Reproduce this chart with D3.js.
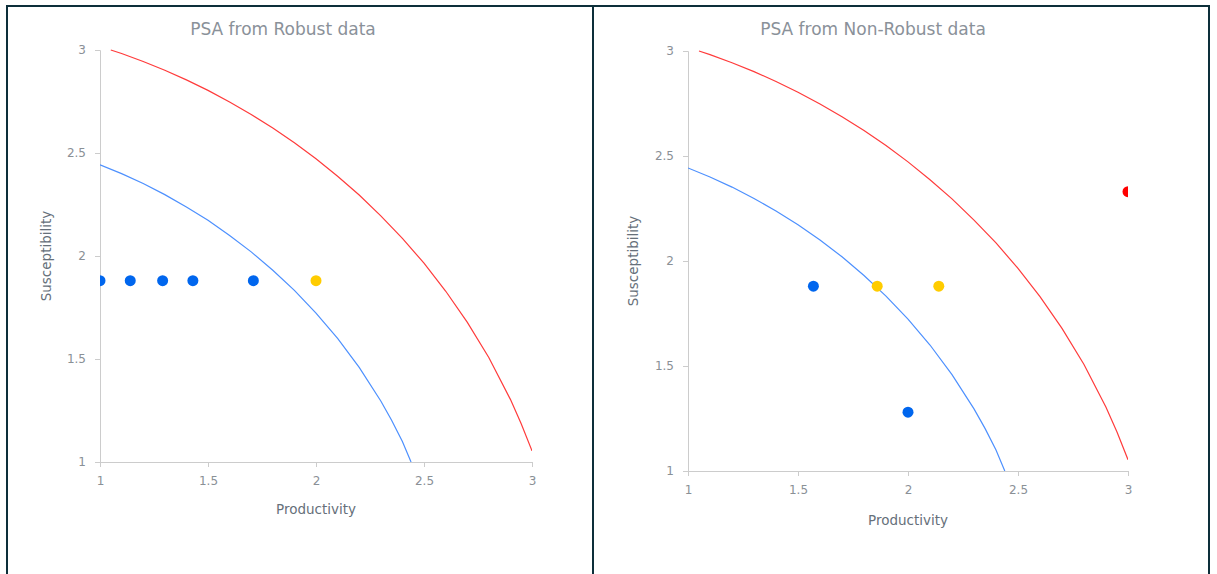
<!DOCTYPE html>
<html><head><meta charset="utf-8">
<script src="https://cdn.jsdelivr.net/npm/d3@7"></script>
<style>body{margin:0;background:#fff;}svg{display:block;}</style>
</head><body>
<svg id="c" width="1217" height="574"></svg>
<script>
// Threshold curves
const redCurveX = [1.05,1.1,1.2,1.3,1.4,1.5,1.6,1.7,1.8,1.9,2.0,2.1,2.2,2.3,2.4,2.5,2.6,2.7,2.8,2.9,2.95,3.0];
const redCurveY = [3.0,2.983,2.944,2.902,2.855,2.804,2.748,2.687,2.621,2.55,2.472,2.387,2.296,2.195,2.086,1.965,1.83,1.679,1.507,1.304,1.186,1.054];
const blueCurveX = [1.0,1.1,1.2,1.3,1.4,1.5,1.6,1.7,1.8,1.9,2.0,2.1,2.2,2.3,2.35,2.4,2.44];
const blueCurveY = [2.443,2.4,2.352,2.298,2.238,2.173,2.1,2.02,1.931,1.833,1.723,1.6,1.459,1.296,1.203,1.1,1.0];
// Robust points
const robustX = [1.0,1.14,1.29,1.43,1.71,2.0];
const robustY = [1.88,1.88,1.88,1.88,1.88,1.88];
const robustC = ["blue","blue","blue","blue","blue","yellow"];
// Non-robust points
const nonRobustX = [1.57,1.86,2.14,2.0,3.0];
const nonRobustY = [1.88,1.88,1.88,1.28,2.33];
const nonRobustC = ["blue","yellow","yellow","blue","red"];
const ticks = [1,1.5,2,2.5,3];
const titles = ["PSA from Robust data","PSA from Non-Robust data"];

const colorMap = {blue:"#0066ee", yellow:"#ffcc00", red:"#ff0000"};
const svg = d3.select("#c");
const font = "'DejaVu Sans', Verdana, sans-serif";

// panel borders
const bc = "#0d2f3a";
svg.append("line").attr("x1",6).attr("x2",1210).attr("y1",6).attr("y2",6).attr("stroke",bc).attr("stroke-width",2);
[7,593,1209].forEach(x=>svg.append("line").attr("x1",x).attr("x2",x).attr("y1",5).attr("y2",574).attr("stroke",bc).attr("stroke-width",2));

const panels = [
  {x0:100,x1:532,y0:50,y1:462,px:robustX,py:robustY,pc:robustC,title:titles[0],tx:283,xl:316,xly:514,yl:51},
  {x0:688,x1:1128,y0:51,y1:471,px:nonRobustX,py:nonRobustY,pc:nonRobustC,title:titles[1],tx:873,xl:908,xly:525,yl:638}
];

panels.forEach((p,i)=>{
  const g = svg.append("g");
  const x = d3.scaleLinear().domain([1,3]).range([p.x0,p.x1]);
  const y = d3.scaleLinear().domain([1,3]).range([p.y1,p.y0]);
  const cid = "clip"+i;
  g.append("clipPath").attr("id",cid).append("rect").attr("x",p.x0).attr("y",p.y0-10).attr("width",p.x1-p.x0).attr("height",p.y1-p.y0+10);

  const xa = g.append("g").attr("transform",`translate(0,${p.y1})`).call(d3.axisBottom(x).tickValues(ticks).tickFormat(d3.format("")).tickSize(5).tickPadding(9));
  const ya = g.append("g").attr("transform",`translate(${p.x0},0)`).call(d3.axisLeft(y).tickValues(ticks).tickFormat(d3.format("")).tickSize(5).tickPadding(9));
  [xa,ya].forEach(a=>{
    a.select(".domain").attr("stroke","#cccccc");
    a.selectAll(".tick line").attr("stroke","#cccccc");
    a.selectAll("text").attr("fill","#8a9096").style("font-family",font).style("font-size","12px");
  });

  const line = d3.line().x(d=>x(d[0])).y(d=>y(d[1]));
  const plot = g.append("g").attr("clip-path",`url(#${cid})`);
  plot.append("path").datum(redCurveX.map((v,k)=>[v,redCurveY[k]])).attr("d",line).attr("fill","none").attr("stroke","#ff3b3b").attr("stroke-width",1.2);
  plot.append("path").datum(blueCurveX.map((v,k)=>[v,blueCurveY[k]])).attr("d",line).attr("fill","none").attr("stroke","#4d90fe").attr("stroke-width",1.2);
  plot.selectAll("circle").data(p.px.map((v,k)=>({x:v,y:p.py[k],c:p.pc[k]}))).enter().append("circle")
    .attr("cx",d=>x(d.x)).attr("cy",d=>y(d.y)).attr("r",5.5).attr("fill",d=>colorMap[d.c]);

  g.append("text").attr("x",p.tx).attr("y",35).attr("text-anchor","middle").attr("fill","#8a9199")
    .style("font-family",font).style("font-size","17px").text(p.title);
  g.append("text").attr("x",p.xl).attr("y",p.xly).attr("text-anchor","middle").attr("fill","#66707a")
    .style("font-family",font).style("font-size","13.5px").text("Productivity");
  g.append("text").attr("transform",`translate(${p.yl},${(p.y0+p.y1)/2}) rotate(-90)`).attr("text-anchor","middle").attr("fill","#66707a")
    .style("font-family",font).style("font-size","13.5px").text("Susceptibility");
});
</script>
</body></html>
